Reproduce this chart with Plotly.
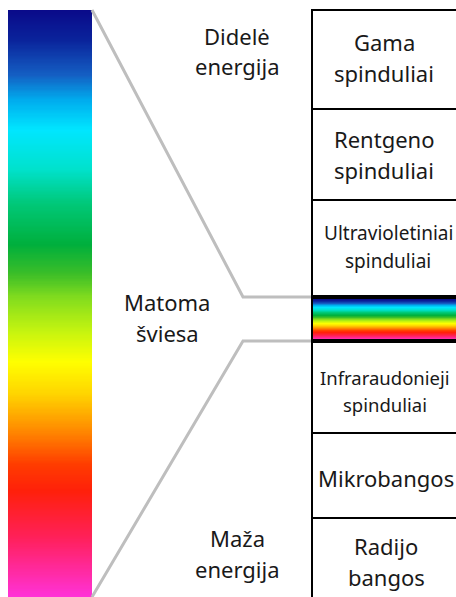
import numpy as np
import plotly.graph_objects as go

# ---- data ----
band_labels = [
    "Gama<br>spinduliai",
    "Rentgeno<br>spinduliai",
    "Ultravioletiniai<br>spinduliai",
    None,  # visible light strip
    "Infraraudonieji<br>spinduliai",
    "Mikrobangos",
    "Radijo<br>bangos",
]
side_labels = ["Didelė<br>energija", "Matoma<br>šviesa", "Maža<br>energija"]

spectrum_stops = [0.0, 0.05, 0.11, 0.153, 0.204, 0.27, 0.33, 0.40, 0.45, 0.49,
                  0.55, 0.60, 0.655, 0.715, 0.775, 0.82, 0.90, 1.0]
spectrum_colors = [
    "rgb(10,10,138)", "rgb(10,35,155)", "rgb(20,95,195)", "rgb(0,172,238)",
    "rgb(0,230,255)", "rgb(0,226,205)", "rgb(0,200,120)", "rgb(0,175,60)",
    "rgb(60,190,40)", "rgb(130,220,30)", "rgb(200,245,15)", "rgb(255,255,0)",
    "rgb(255,212,0)", "rgb(255,140,0)", "rgb(255,60,0)", "rgb(255,32,10)",
    "rgb(255,32,90)", "rgb(255,50,215)",
]

# ---- geometry / style ----
W, H = 456, 597
bar_x = (8, 92)
bar_y = (10, 597)
box_left = 312
box_edges = [10, 109, 200, 297, 341, 433, 518, 597]
box_text_x = [384, 384, 388, 0, 385, 386, 386]
box_line_y = [(42, 73), (139, 170), (233, 261), None, (377, 404), (478,), (546, 577)]
box_font = [22, 22, 19, 0, 18.5, 22, 22]
side_pos_x = [237, 167, 237]
side_line_y = [(36, 66), (302, 333), (538, 569)]

colorscale = [[s, c] for s, c in zip(spectrum_stops, spectrum_colors)]
n = 500
zcol = np.linspace(0, 1, n).reshape(-1, 1)

fig = go.Figure()
fig.add_trace(go.Heatmap(z=zcol, x=list(bar_x), y=np.linspace(bar_y[0], bar_y[1], n + 1),
                         colorscale=colorscale, zmin=0, zmax=1, showscale=False,
                         hoverinfo="skip"))
fig.add_trace(go.Heatmap(z=zcol, x=[box_left, W], y=np.linspace(299, 339.5, n + 1),
                         colorscale=colorscale, zmin=0, zmax=1, showscale=False,
                         hoverinfo="skip"))

shapes = []
grey = dict(color="rgb(190,190,190)", width=3)
shapes.append(dict(type="path", path=f"M {bar_x[1]},{bar_y[0]} L 243,297 L {box_left},297",
                   line=grey, xref="x", yref="y"))
shapes.append(dict(type="path", path=f"M {bar_x[1]},{bar_y[1]} L 243,341 L {box_left},341",
                   line=grey, xref="x", yref="y"))
black = dict(color="black", width=2)
shapes.append(dict(type="line", x0=box_left, x1=box_left, y0=box_edges[0] - 1, y1=H + 2,
                   line=black, xref="x", yref="y"))
for e in box_edges[:-1]:
    w = 4 if e in (297, 341) else 2
    shapes.append(dict(type="line", x0=box_left, x1=W + 2, y0=e, y1=e,
                       line=dict(color="black", width=w), xref="x", yref="y"))
fig.update_layout(shapes=shapes)

font = "Noto Sans"
txtcol = "rgb(25,25,25)"
ann = []


def add_lines(label, x, ys, size):
    for line, y in zip(label.split("<br>"), ys):
        ann.append(dict(x=x, y=y, text=line, showarrow=False, xref="x", yref="y",
                        xanchor="center", yanchor="middle",
                        font=dict(family=font, size=size, color=txtcol)))


for i, lab in enumerate(band_labels):
    if lab is None:
        continue
    add_lines(lab, box_text_x[i], box_line_y[i], box_font[i])
for lab, x, ys in zip(side_labels, side_pos_x, side_line_y):
    add_lines(lab, x, ys, 22)
fig.update_layout(annotations=ann)

fig.update_layout(
    width=W, height=H, margin=dict(l=0, r=0, t=0, b=0),
    paper_bgcolor="white", plot_bgcolor="white", showlegend=False,
    xaxis=dict(range=[0, W], visible=False, fixedrange=True),
    yaxis=dict(range=[H, 0], visible=False, fixedrange=True),
)
fig.write_html("out.html", config={"displayModeBar": False},
               post_script="document.body.style.margin='0';")
